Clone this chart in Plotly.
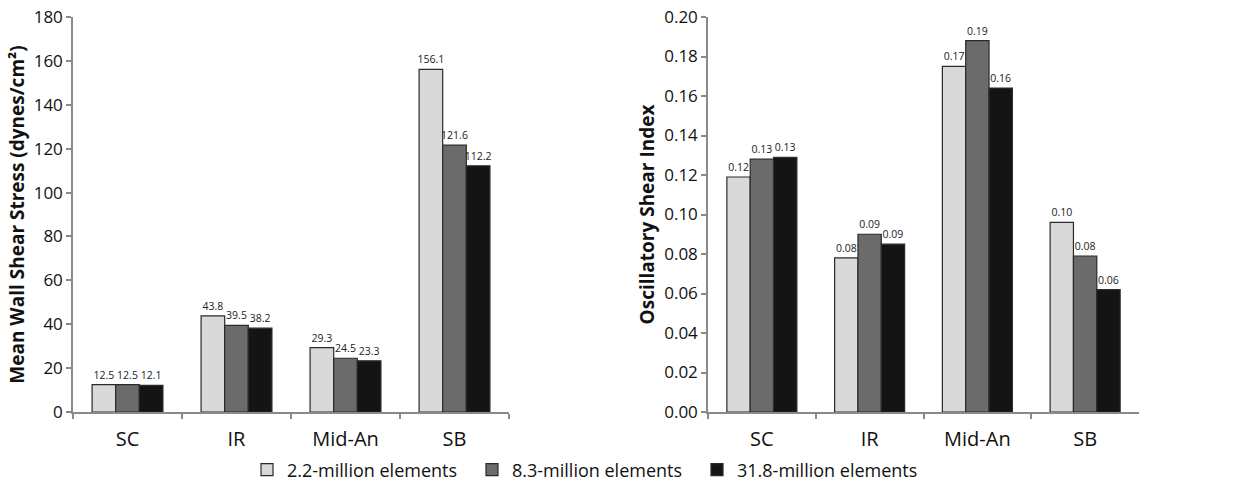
import plotly.graph_objects as go

categories = ["SC", "IR", "Mid-An", "SB"]
series_names = ["2.2-million elements", "8.3-million elements", "31.8-million elements"]
colors = ["#d9d9d9", "#6b6b6b", "#141414"]

wss_values = [
    [12.5, 43.8, 29.3, 156.1],
    [12.5, 39.5, 24.5, 121.6],
    [12.1, 38.2, 23.3, 112.2],
]
wss_labels = [
    ["12.5", "43.8", "29.3", "156.1"],
    ["12.5", "39.5", "24.5", "121.6"],
    ["12.1", "38.2", "23.3", "112.2"],
]
osi_values = [
    [0.119, 0.078, 0.175, 0.096],
    [0.128, 0.090, 0.188, 0.079],
    [0.129, 0.085, 0.164, 0.062],
]
osi_labels = [
    ["0.12", "0.08", "0.17", "0.10"],
    ["0.13", "0.09", "0.19", "0.08"],
    ["0.13", "0.09", "0.16", "0.06"],
]
wss_ticks = [0, 20, 40, 60, 80, 100, 120, 140, 160, 180]
osi_ticks = [0.00, 0.02, 0.04, 0.06, 0.08, 0.10, 0.12, 0.14, 0.16, 0.18, 0.20]

FONT = "Open Sans"
LABEL_FONT = dict(size=10.5, color="#222", family="Open Sans")

fig = go.Figure()
for i in range(3):
    fig.add_trace(go.Bar(
        x=categories, y=wss_values[i], name=series_names[i],
        marker=dict(color=colors[i], line=dict(color="#2a2a2a", width=1.2)),
        text=wss_labels[i], textposition="outside", cliponaxis=False, constraintext="none",
        textfont=LABEL_FONT,
        xaxis="x", yaxis="y", legendgroup=str(i), showlegend=True,
    ))
for i in range(3):
    fig.add_trace(go.Bar(
        x=categories, y=osi_values[i], name=series_names[i],
        marker=dict(color=colors[i], line=dict(color="#2a2a2a", width=1.2)),
        text=osi_labels[i], textposition="outside", cliponaxis=False, constraintext="none",
        textfont=LABEL_FONT,
        xaxis="x2", yaxis="y2", legendgroup=str(i), showlegend=False,
    ))

axis_common = dict(showline=True, linecolor="#8a8a8a", linewidth=1.5,
                   ticks="outside", tickcolor="#8a8a8a", ticklen=5, tickwidth=1.5,
                   showgrid=False, zeroline=False, automargin=False)
xtick_font = dict(size=20, color="#111", family=FONT)
ytick_font = dict(size=17, color="#111", family=FONT)

ydom = [1 - 412 / 491, 1 - 17 / 491]

fig.update_layout(
    width=1235, height=491,
    margin=dict(l=0, r=0, t=0, b=0, autoexpand=False),
    paper_bgcolor="white", plot_bgcolor="white",
    barmode="group", bargap=0.35, bargroupgap=0,
    font=dict(family=FONT, color="#111"),
    xaxis=dict(domain=[73 / 1235, 509 / 1235], anchor="y", tickson="boundaries",
               tickfont=xtick_font, ticklabelstandoff=8, **axis_common),
    yaxis=dict(domain=ydom, anchor="x", range=[0, 180],
               tickvals=wss_ticks, ticktext=[str(t) for t in wss_ticks], tickfont=ytick_font,
               title=dict(text="<b>Mean Wall Shear Stress (dynes/cm²)</b>",
                          font=dict(size=19, family=FONT), standoff=4),
               **axis_common),
    xaxis2=dict(domain=[708 / 1235, 1139 / 1235], anchor="y2", tickson="boundaries",
                tickfont=xtick_font, ticklabelstandoff=8, **axis_common),
    yaxis2=dict(domain=ydom, anchor="x2", range=[0, 0.20],
                tickvals=osi_ticks, ticktext=[f"{t:.2f}" for t in osi_ticks], tickfont=ytick_font,
                title=dict(text="<b>Oscillatory Shear Index</b>",
                           font=dict(size=19, family=FONT), standoff=5),
                **axis_common),
    legend=dict(orientation="h", x=247 / 1235, xanchor="left", y=(491 - 470) / 491, yanchor="middle",
                font=dict(size=18, family=FONT, color="#111"),
                itemwidth=30, traceorder="normal", entrywidth=180),
)

fig.write_html("out.html")
